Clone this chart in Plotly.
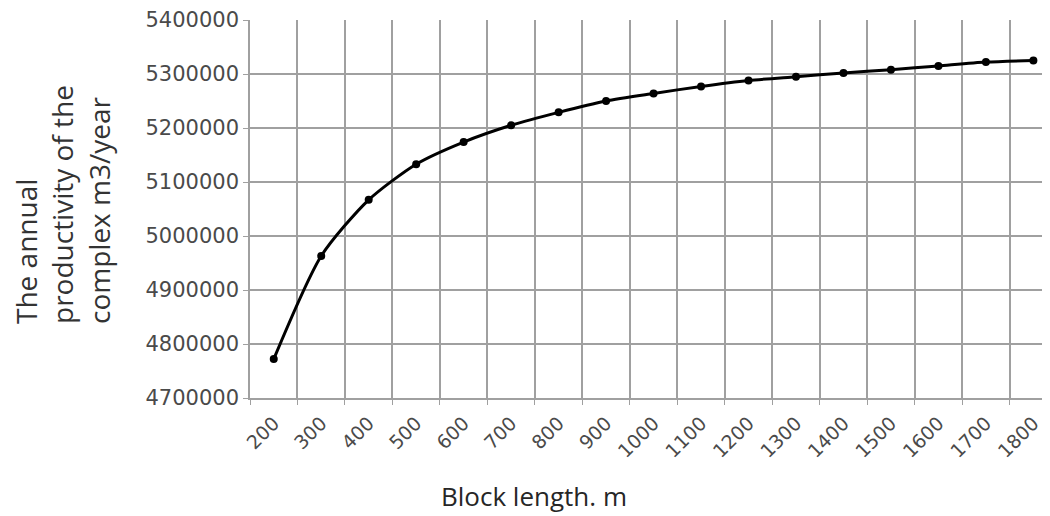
import plotly.graph_objects as go

block_length = ["200", "300", "400", "500", "600", "700", "800", "900", "1000",
                "1100", "1200", "1300", "1400", "1500", "1600", "1700", "1800"]
productivity = [4772000, 4963000, 5067000, 5133000, 5174000, 5205000, 5229000,
                5250000, 5264000, 5277000, 5288000, 5295000, 5302000, 5308000,
                5315000, 5322000, 5325000]
y_ticks = [4700000, 4800000, 4900000, 5000000, 5100000, 5200000, 5300000, 5400000]

# page body has an 8px margin: work in screen pixels, shift by OFF
OFF = 8
W, H = 1050 - OFF, 516 - OFF
ML, MT = 250 - OFF, 20 - OFF
PB = 398 - OFF
MB = H - PB
PW = W - ML
PH = PB - MT

def px_x(sx):
    return (sx - OFF - ML) / PW

def px_y(sy):
    return (PB - (sy - OFF)) / PH

fig = go.Figure()
fig.add_trace(go.Scatter(
    x=block_length, y=productivity, mode="lines+markers",
    line=dict(color="black", width=3, shape="spline", smoothing=0.7),
    marker=dict(color="black", size=8),
    showlegend=False, hoverinfo="x+y",
))

grid = "#a0a0a0"
fig.update_layout(
    width=W, height=H,
    margin=dict(l=ML, r=0, t=MT, b=MB, autoexpand=False),
    paper_bgcolor="white", plot_bgcolor="white",
    xaxis=dict(
        type="category", range=[-0.5, 16.35], tickson="boundaries",
        showgrid=True, gridcolor=grid, gridwidth=1.6,
        showline=True, linecolor=grid, linewidth=1.6,
        ticks="outside", ticklen=5, tickcolor=grid, tickwidth=1.2,
        tickangle=-45, ticklabelstandoff=5,
        tickfont=dict(family="DejaVu Sans", size=19, color="#4a4a4a"),
        zeroline=False,
    ),
    yaxis=dict(
        range=[4700000, 5400000], tickvals=y_ticks,
        ticktext=[str(v) for v in y_ticks],
        showgrid=True, gridcolor=grid, gridwidth=1.6,
        showline=True, linecolor=grid, linewidth=1.6,
        ticks="outside", ticklen=5, tickcolor=grid, tickwidth=1.2,
        tickfont=dict(family="DejaVu Sans", size=21, color="#4a4a4a"),
        zeroline=False,
    ),
)

fig.add_annotation(
    xref="paper", yref="paper",
    x=px_x(62), y=px_y(205),
    xanchor="center", yanchor="middle",
    text="The annual<br>productivity of the<br>complex m3/year",
    textangle=-90, align="left", showarrow=False,
    font=dict(family="Open Sans", size=28, color="#333333"),
)
fig.add_annotation(
    xref="paper", yref="paper",
    x=px_x(534), y=px_y(496),
    xanchor="center", yanchor="middle",
    text="Block length. m", showarrow=False,
    font=dict(family="Open Sans", size=26, color="#262626"),
)

fig.write_html("out.html")
